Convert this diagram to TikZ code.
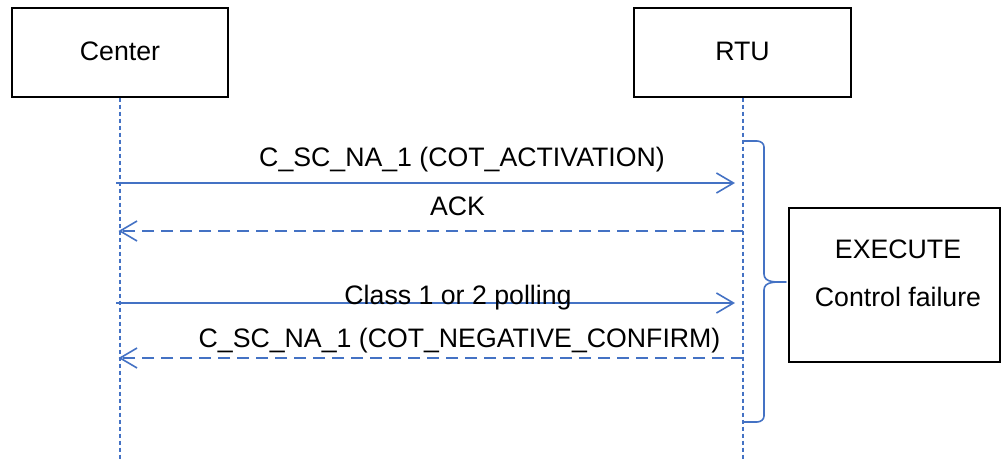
\documentclass[tikz,border=0pt]{standalone}
\usepackage{fontspec}
\setmainfont{Liberation Sans}
\usetikzlibrary{arrows.meta}
\definecolor{seqblue}{RGB}{68,114,196}
\tikzset{
  actor/.style={draw=black, line width=1.3pt, fill=white, minimum width=216pt, minimum height=89pt, inner sep=0pt},
  lifeline/.style={draw=seqblue, line width=1.6pt, dash pattern=on 4pt off 3pt},
  msg/.style={draw=seqblue, line width=1.6pt, -{Straight Barb[length=17pt,width=20pt,line width=1.6pt]}},
  reply/.style={msg, dash pattern=on 12pt off 7pt},
  lbl/.style={anchor=base, inner sep=0pt, font=\fontsize{26.7}{32}\selectfont},
  bracepath/.style={draw=seqblue, line width=1.6pt, line join=round}
}
\begin{document}
\begin{tikzpicture}[x=1pt, y=-1pt]
\useasboundingbox (0,0) rectangle (1001,459);
% actors
\node[actor] (center) at (120,52.5) {};
\node[lbl] (centerlbl) at (120,60) {Center};
\node[actor, minimum width=217pt] (rtu) at (742.5,52.5) {};
\node[lbl] (rtulbl) at (742.5,60) {RTU};
% lifelines
\coordinate (cbot) at (120,459);
\coordinate (rbot) at (743,459);
\draw[lifeline] (center.south -| cbot) -- (cbot);
\draw[lifeline] (rtu.south -| rbot) -- (rbot);
% message end points
\coordinate (m1s) at (116,183);
\coordinate (m1e) at (735,183);
\coordinate (m2s) at (743,231);
\coordinate (m2e) at (118.5,231);
\coordinate (m3s) at (116,303);
\coordinate (m3e) at (735,303);
\coordinate (m4s) at (743,358);
\coordinate (m4e) at (118.5,358);
\draw[msg] (m1s) -- (m1e);
\draw[reply] (m2s) -- (m2e);
\draw[msg] (m3s) -- (m3e);
\draw[reply] (m4s) -- (m4e);
% labels
\node[lbl] (l1) at (462,166.5) {C\_SC\_NA\_1 (COT\_ACTIVATION)};
\node[lbl] (l2) at (457.5,215) {ACK};
\node[lbl] (l3) at (458,304.5) {Class 1 or 2 polling};
\node[lbl] (l4) at (459.5,347) {C\_SC\_NA\_1 (COT\_NEGATIVE\_CONFIRM)};
% brace
\draw[bracepath] (743,141) -- (757,141) to[out=0,in=90] (764,147) -- (764,274)
  to[out=-90,in=180] (786,282) to[out=180,in=90] (764,290) -- (764,416)
  to[out=-90,in=0] (757,422) -- (743,422);
% execute box
\node[draw=black, line width=1.3pt, fill=white, minimum width=211pt, minimum height=154pt, inner sep=0pt] (exec) at (894.5,285) {};
\node[lbl] (exec1) at (898,258.5) {EXECUTE};
\node[lbl] (exec2) at (898,306) {Control failure};
\end{tikzpicture}
\end{document}
